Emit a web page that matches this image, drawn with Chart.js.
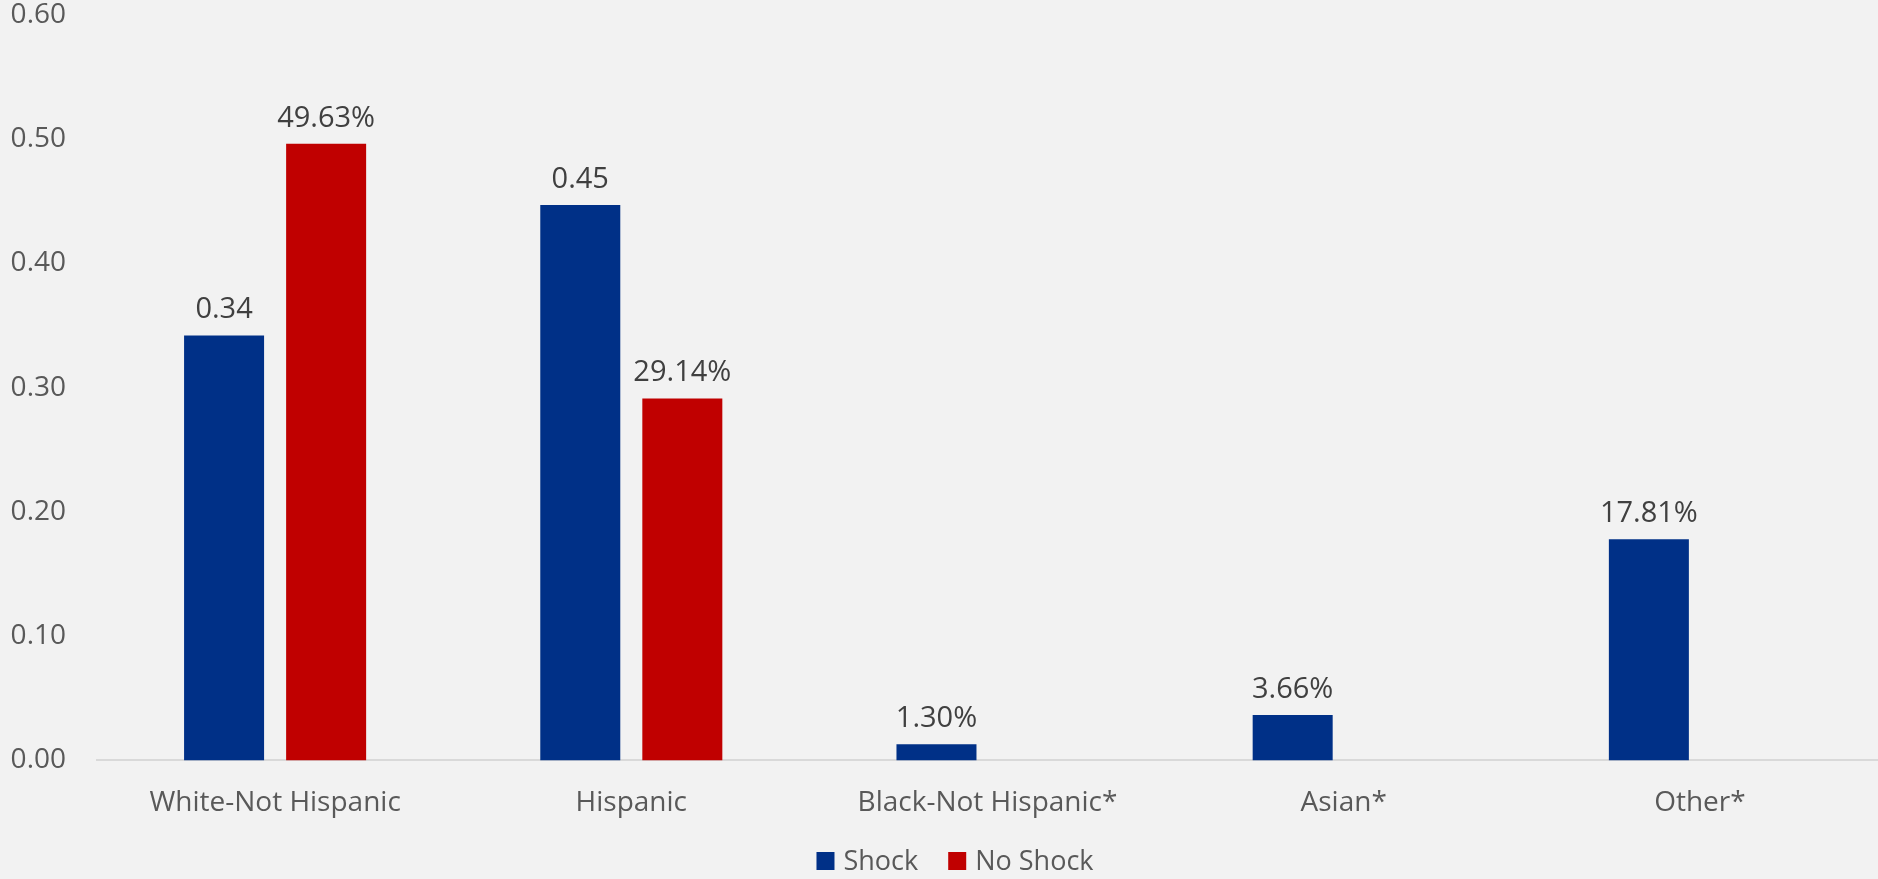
<!DOCTYPE html>
<html>
<head>
<meta charset="utf-8">
<script src="https://cdn.jsdelivr.net/npm/chart.js@4.4.1/dist/chart.umd.min.js"></script>
<style>
  html, body { margin: 0; padding: 0; background: #f2f2f2; }
  #wrap { width: 1878px; height: 879px; }
</style>
</head>
<body>
<div id="wrap"><canvas id="raceChart"></canvas></div>
<script>
const categories = ["White-Not Hispanic", "Hispanic", "Black-Not Hispanic*", "Asian*", "Other*"];
const shockValues = [0.342, 0.447, 0.013, 0.0366, 0.1781];
const noShockValues = [0.4963, 0.2914, null, null, null];
// labels as printed on the bars (the source mixes formats)
const shockLabels = ["0.34", "0.45", "1.30%", "3.66%", "17.81%"];
const noShockLabels = ["49.63%", "29.14%", "", "", ""];
const yTicks = [0, 0.1, 0.2, 0.3, 0.4, 0.5, 0.6];

const FONT = "'Open Sans', 'DejaVu Sans', sans-serif";

// draws the value text above each bar
const barLabels = {
  id: "barLabels",
  afterDatasetsDraw(chart) {
    const ctx = chart.ctx;
    ctx.save();
    ctx.font = `29px ${FONT}`;
    ctx.fillStyle = "#404040";
    ctx.textAlign = "center";
    ctx.textBaseline = "bottom";
    chart.data.datasets.forEach((ds, i) => {
      const meta = chart.getDatasetMeta(i);
      meta.data.forEach((bar, j) => {
        const txt = ds.valueLabels[j];
        if (ds.data[j] == null || !txt) return;
        ctx.fillText(txt, bar.x, bar.y - 11);
      });
    });
    ctx.restore();
  },
};

// small legend under the axis labels (built-in one spaces things too loosely)
const bottomLegend = {
  id: "bottomLegend",
  afterDraw(chart) {
    const ctx = chart.ctx;
    const box = 18, textGap = 9, itemGap = 30;
    ctx.save();
    ctx.font = `27px ${FONT}`;
    ctx.textBaseline = "middle";
    const items = chart.data.datasets.map((ds) => ({
      text: ds.label,
      color: ds.backgroundColor,
      w: box + textGap + ctx.measureText(ds.label).width,
    }));
    const total = items.reduce((s, it) => s + it.w, 0) + itemGap * (items.length - 1);
    let x = chart.width / 2 + 16 - total / 2;
    const y = chart.height - 18;
    items.forEach((it) => {
      ctx.fillStyle = it.color;
      ctx.fillRect(x, y - box / 2, box, box);
      ctx.fillStyle = "#595959";
      ctx.fillText(it.text, x + box + textGap, y + 1);
      x += it.w + itemGap;
    });
    ctx.restore();
  },
};

new Chart(document.getElementById("raceChart").getContext("2d"), {
  type: "bar",
  data: {
    labels: categories,
    datasets: [
      {
        label: "Shock",
        data: shockValues,
        valueLabels: shockLabels,
        backgroundColor: "#003087",
        categoryPercentage: 0.573,
        barPercentage: 0.784,
      },
      {
        label: "No Shock",
        data: noShockValues,
        valueLabels: noShockLabels,
        backgroundColor: "#c00000",
        categoryPercentage: 0.573,
        barPercentage: 0.784,
      },
    ],
  },
  options: {
    responsive: true,
    maintainAspectRatio: false,
    animation: false,
    layout: {
      padding: { top: 15, right: 0, left: 0, bottom: 33 },
    },
    plugins: {
      legend: { display: false },
      tooltip: { enabled: false },
    },
    scales: {
      x: {
        grid: { display: false, drawTicks: false },
        border: { color: "#d9d9d9", width: 2 },
        ticks: {
          color: "#595959",
          padding: 26,
          font: { family: FONT, size: 28 },
        },
      },
      y: {
        min: 0,
        max: 0.6,
        afterBuildTicks: (scale) => {
          scale.ticks = yTicks.map((v) => ({ value: v }));
        },
        afterFit: (scale) => {
          scale.width = 97;
          scale.paddingTop = 0;
          scale.paddingBottom = 0;
        },
        grid: { display: false, drawTicks: false },
        border: { display: false },
        ticks: {
          color: "#595959",
          padding: 31,
          font: { family: FONT, size: 28 },
          callback: (v) => Number(v).toFixed(2),
        },
      },
    },
  },
  plugins: [barLabels, bottomLegend],
});
</script>
</body>
</html>
